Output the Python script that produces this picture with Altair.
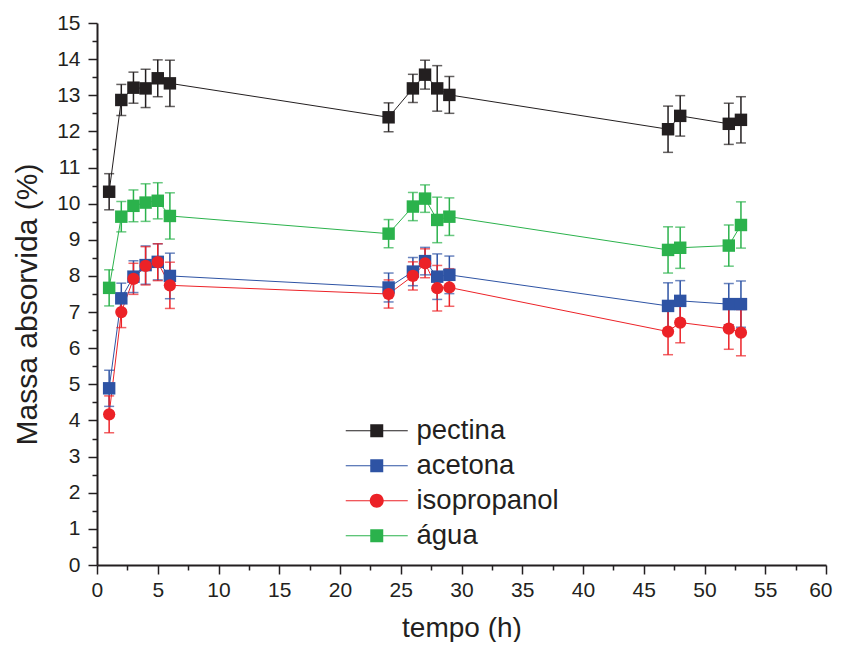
import altair as alt
import pandas as pd

# ---------------- data ----------------
times = [1, 2, 3, 4, 5, 6, 24, 26, 27, 28, 29, 47, 48, 52, 53]

series_names = ["pectina", "acetona", "isopropanol", "água"]
series_colors = ["#231f20", "#2e53a4", "#ec2227", "#2bb24c"]

pectina = [10.33, 12.87, 13.21, 13.19, 13.47, 13.33, 12.39, 13.19, 13.57, 13.19, 13.01, 12.06, 12.43, 12.21, 12.32]
pectina_err = [0.50, 0.43, 0.43, 0.53, 0.51, 0.64, 0.40, 0.39, 0.40, 0.63, 0.51, 0.64, 0.56, 0.57, 0.64]

acetona = [4.89, 7.38, 7.98, 8.30, 8.39, 8.00, 7.68, 8.12, 8.41, 7.98, 8.03, 7.17, 7.31, 7.22, 7.22]
acetona_err = [0.50, 0.42, 0.44, 0.53, 0.50, 0.63, 0.40, 0.39, 0.38, 0.63, 0.52, 0.64, 0.56, 0.57, 0.64]

isopropanol = [4.17, 7.00, 7.92, 8.28, 8.38, 7.74, 7.50, 8.00, 8.35, 7.66, 7.68, 6.46, 6.71, 6.54, 6.43]
isopropanol_err = [0.51, 0.43, 0.43, 0.53, 0.51, 0.64, 0.39, 0.39, 0.40, 0.63, 0.52, 0.64, 0.56, 0.57, 0.64]

agua = [7.67, 9.64, 9.94, 10.03, 10.08, 9.66, 9.17, 9.92, 10.14, 9.55, 9.64, 8.72, 8.78, 8.84, 9.41]
agua_err = [0.50, 0.42, 0.44, 0.52, 0.50, 0.64, 0.39, 0.39, 0.38, 0.63, 0.52, 0.64, 0.57, 0.57, 0.64]

x_major_ticks = [0, 5, 10, 15, 20, 25, 30, 35, 40, 45, 50, 55, 60]
x_minor_ticks = [2.5, 7.5, 12.5, 17.5, 22.5, 27.5, 32.5, 37.5, 42.5, 47.5, 52.5, 57.5]
y_major_ticks = list(range(0, 16))
y_minor_ticks = [i + 0.5 for i in range(0, 15)]

# legend symbols: line - marker - line, drawn as filled outlines
# (pixel units: symbolSize=4 -> 1 unit = 1px)
SQ = "M-31,-0.5H-6.5V-6.5H6.5V-0.5H31V0.5H6.5V6.5H-6.5V0.5H-31Z"
CI = "M-31,-0.5H-6.98A7,7 0 0,1 6.98,-0.5H31V0.5H6.98A7,7 0 0,1 -6.98,0.5H-31Z"
legend_paths = [SQ, SQ, CI, SQ]

rows = []
for name, vals, errs in [("pectina", pectina, pectina_err),
                         ("acetona", acetona, acetona_err),
                         ("isopropanol", isopropanol, isopropanol_err),
                         ("água", agua, agua_err)]:
    for t, v, e in zip(times, vals, errs):
        rows.append({"series": name, "t": t, "v": v, "lo": v - e, "hi": v + e})
df = pd.DataFrame(rows)

FONT = "Arial, Liberation Sans, sans-serif"
INK = "#231f20"

xs = alt.Scale(domain=[0, 60], nice=False, zero=False)
ys = alt.Scale(domain=[0, 15], nice=False, zero=False)
cs = alt.Scale(domain=series_names, range=series_colors)

common = dict(grid=False, domainColor=INK, tickColor=INK, tickWidth=1.5,
              labelFont=FONT, labelColor=INK, titleFont=FONT, titleColor=INK,
              titleFontWeight="normal")

x_major = alt.Axis(values=x_major_ticks, orient="bottom", tickSize=9, domainWidth=2,
                   labelFontSize=21, labelPadding=5, labelFlush=True, labelFlushOffset=6,
                   labelOverlap=False,
                   title="tempo (h)", titleFontSize=28, titleY=71,
                   titleBaseline="alphabetic", **common)
y_major = alt.Axis(values=y_major_ticks, orient="left", tickSize=9, domainWidth=2,
                   labelFontSize=21, labelPadding=8, labelFlush=False, labelOverlap=False,
                   title="Massa absorvida (%)", titleFontSize=30, titleX=-61, titleY=281,
                   titleBaseline="alphabetic", **common)
x_minor = alt.Axis(values=x_minor_ticks, orient="bottom", tickSize=5, domain=False,
                   labels=False, title=None, grid=False, tickColor=INK, tickWidth=1.5)
y_minor = alt.Axis(values=y_minor_ticks, orient="left", tickSize=5, domain=False,
                   labels=False, title=None, grid=False, tickColor=INK, tickWidth=1.5)

base = alt.Chart(df)
col = alt.Color("series:N", scale=cs, legend=None)

lines = base.mark_line(strokeWidth=1).encode(
    x=alt.X("t:Q", scale=xs, axis=x_major),
    y=alt.Y("v:Q", scale=ys, axis=y_major),
    color=col,
)

err_rules = base.mark_rule(strokeWidth=1.5).encode(
    x=alt.X("t:Q", scale=xs, axis=None),
    y=alt.Y("lo:Q", scale=ys, axis=None),
    y2="hi:Q",
    color=col,
)
cap_lo = base.mark_tick(orient="horizontal", size=10, thickness=1.5).encode(
    x=alt.X("t:Q", scale=xs, axis=None),
    y=alt.Y("lo:Q", scale=ys, axis=None),
    color=col,
)
cap_hi = base.mark_tick(orient="horizontal", size=10, thickness=1.5).encode(
    x=alt.X("t:Q", scale=xs, axis=None),
    y=alt.Y("hi:Q", scale=ys, axis=None),
    color=col,
)

squares = base.mark_square(size=155, opacity=1).transform_filter(
    alt.datum.series != "isopropanol"
).encode(
    x=alt.X("t:Q", scale=xs, axis=x_minor),
    y=alt.Y("v:Q", scale=ys, axis=y_minor),
    color=col,
)
circles = base.mark_circle(size=150, opacity=1).transform_filter(
    alt.datum.series == "isopropanol"
).encode(
    x=alt.X("t:Q", scale=xs, axis=None),
    y=alt.Y("v:Q", scale=ys, axis=None),
    color=col,
)

# per-entry legend colour, looked up from the same name/colour lists
names_js = "[" + ",".join("'" + n + "'" for n in series_names) + "]"
colors_js = "[" + ",".join("'" + c + "'" for c in series_colors) + "]"
legend_fill = alt.ExprRef(expr=f"{colors_js}[indexof({names_js}, datum.value)]")

leg = alt.Legend(
    title=None, orient="none", legendX=266, legendY=394, padding=0,
    labelFont=FONT, labelFontSize=27.5, labelColor=INK, labelOffset=26,
    symbolSize=4, symbolStrokeWidth=0, symbolOpacity=1, symbolFillColor=legend_fill,
    rowPadding=6, labelLimit=400,
)

legend_layer = base.mark_point(filled=True, opacity=0, size=4).encode(
    x=alt.X("t:Q", scale=xs, axis=None),
    y=alt.Y("v:Q", scale=ys, axis=None),
    color=alt.Color("series:N", scale=alt.Scale(domain=series_names, range=series_colors), legend=None),
    shape=alt.Shape("series:N", scale=alt.Scale(domain=series_names, range=legend_paths), legend=leg),
)

chart = alt.layer(lines, err_rules, cap_lo, cap_hi, squares, circles, legend_layer).resolve_axis(
    x="independent", y="independent"
).resolve_scale(
    color="independent"
).properties(
    width=729, height=542,
    autosize=alt.AutoSizeParams(type="none"),
    padding={"left": 89, "top": 15, "right": 7, "bottom": 77},
).configure_view(stroke=None)

chart.save("out.html", embed_options={"renderer": "svg", "actions": False})
